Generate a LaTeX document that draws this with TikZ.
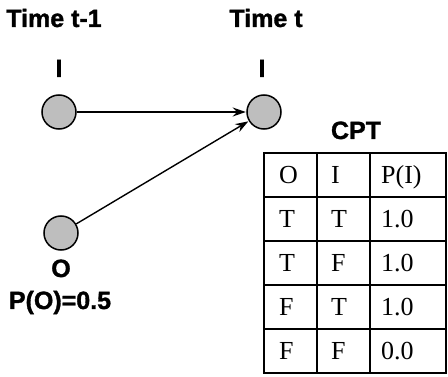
\documentclass[tikz,border=0pt]{standalone}
\usepackage{fontspec}
\setmainfont{Liberation Serif}
\newfontfamily\labelfont[FakeBold=1.3]{Liberation Sans Bold}
\usetikzlibrary{arrows.meta}
\definecolor{nodegray}{RGB}{190,190,190}

\begin{document}
\begin{tikzpicture}[x=1pt,y=-1pt,
  varnode/.style={circle,draw=black,line width=1.5pt,fill=nodegray,
    minimum size=34pt,inner sep=0pt},
  boldlbl/.style={font=\labelfont\fontsize{25}{28}\selectfont,
    inner sep=0pt,anchor=base},
  cell/.style={font=\fontsize{26}{30}\selectfont,inner sep=0pt,anchor=base west},
  link/.style={line width=1.4pt,-{Stealth[length=13pt,width=9pt]},shorten >=0.5pt},
  outer/.style={line width=2.8pt},
  inner/.style={line width=1.3pt}]
  \useasboundingbox (0,0) rectangle (448,377);

  % time slice headings
  \node[boldlbl] (tprev) at (54,27) {Time t-1};
  \node[boldlbl] (tnow) at (266,27) {Time t};

  % variables of the two slices
  \node[varnode] (Iprev) at (59,112) {};
  \node[varnode] (Inow) at (264,112) {};
  \node[varnode] (O) at (61,233) {};
  \node[boldlbl] (IprevL) at (59,77) {I};
  \node[boldlbl] (InowL) at (262,77) {I};
  \node[boldlbl] (OL) at (61,277) {O};
  \node[boldlbl] (prior) at (60,309) {P(O)=0.5};

  % dependencies
  \draw[link] (Iprev) -- (Inow);
  \draw[link] (O) -- (Inow);

  % conditional probability table
  \node[boldlbl] (cpt) at (356,139) {CPT};
  \foreach \y in {197,241,285,329}
    \draw[inner] (264,\y) -- (446,\y);
  \draw[inner] (317,153) -- (317,373);
  \draw[inner] (370,153) -- (370,373);
  \draw[outer] (264,153) rectangle (446,373);

  \foreach \ca/\cb/\cc [count=\i] in {O/I/P(I),T/T/1.0,T/F/1.0,F/T/1.0,F/F/0.0}{
    \pgfmathsetmacro{\base}{184+44*(\i-1)}
    \node[cell] (c\i a) at (279,\base) {\ca};
    \node[cell] (c\i b) at (331,\base) {\cb};
    \node[cell] (c\i c) at (381,\base) {\cc};
  }
\end{tikzpicture}
\end{document}
